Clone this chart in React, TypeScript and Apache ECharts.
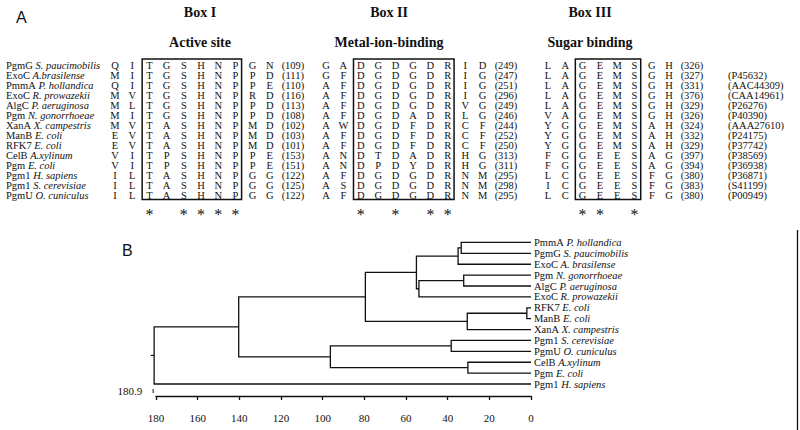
import React, { useEffect, useRef } from "react";
import * as echarts from "echarts";

// ---------------- Panel A data ----------------
const strainNames = ["PgmG", "ExoC", "PmmA", "ExoC", "AlgC", "Pgm", "XanA", "ManB", "RFK7", "CelB", "Pgm", "Pgm1", "Pgm1", "PgmU"];
const speciesNames = ["S. paucimobilis", "A.brasilense", "P. hollandica", "R. prowazekii", "P. aeruginosa", "N. gonorrhoeae", "X. campestris", "E. coli", "E. coli", "A.xylinum", "E. coli", "H. sapiens", "S. cerevisiae", "O. cuniculus"];

const boxISeqs = ["QITGSHNPGN", "MITGSHNPPD", "QITGSHNPPE", "MVTGSHNPRD", "MLTGSHNPPD", "MITGSHNPPD", "MVTASHNPMD", "EVTASHNPMD", "EVTASHNPMD", "VITPSHNPPE", "VITPSHNPPE", "ILTASHNPGG", "ILTASHNPGG", "ILTASHNPGG"];
const boxIEnds = [109, 111, 110, 116, 113, 108, 102, 103, 101, 153, 151, 122, 125, 122];
const boxIISeqs = ["GADGDGDRID", "GFDGDGDRIG", "AFDGDGDRIG", "AFDGDGDRIG", "AFDGDGDRVG", "AFDGDADRLG", "AWDGDFDRCF", "AFDGDFDRCF", "AFDGDFDRCF", "ANDTDADRHG", "ANDPDYDRHG", "AFDGDGDRNM", "ASDGDGDRNM", "AFDGDGDRNM"];
const boxIIEnds = [249, 247, 251, 296, 249, 246, 244, 252, 250, 313, 311, 295, 298, 295];
const boxIIISeqs = ["LAGEMSGH", "LAGEMSGH", "LAGEMSGH", "LAGEMSGH", "LAGEMSGH", "VAGEMSGH", "YGGEMSAH", "YGGEMSAH", "YGGEMSAH", "FGGEESAG", "FGGEESAG", "LCGEESFG", "ICGEESFG", "LCGEESFG"];
const boxIIIEnds = [326, 327, 331, 376, 329, 326, 324, 332, 329, 397, 394, 380, 383, 380];
const accessions = ["", "(P45632)", "(AAC44309)", "(CAA14961)", "(P26276)", "(P40390)", "(AAA27610)", "(P24175)", "(P37742)", "(P38569)", "(P36938)", "(P36871)", "(S41199)", "(P00949)"];

const boxTitles = ["Box I", "Box II", "Box III"];
const boxSubtitles = ["Active site", "Metal-ion-binding", "Sugar binding"];
const boxLengths = [6, 6, 4];
const boxIStars = [0, 2, 3, 4, 5];
const boxIIStars = [0, 2, 4, 5];
const boxIIIStars = [0, 1, 3];

// ---------------- Panel B data ----------------
const leafStrains = ["PmmA", "PgmG", "ExoC", "Pgm", "AlgC", "ExoC", "RFK7", "ManB", "XanA", "Pgm1", "PgmU", "CelB", "Pgm", "Pgm1"];
const leafSpecies = ["P. hollandica", "S. paucimobilis", "A. brasilense", "N. gonorrhoeae", "P. aeruginosa", "R. prowazekii", "E. coli", "E. coli", "X. campestris", "S. cerevisiae", "O. cuniculus", "A.xylinum", "E. coli", "H. sapiens"];
// merges: [childA, childB, height]; leaves are 0..13, merged nodes get 14, 15, ...
const merges: number[][] = [
  [0, 1, 33.5],
  [14, 2, 35],
  [3, 4, 32.3],
  [16, 5, 53.8],
  [15, 17, 55],
  [6, 7, 2],
  [19, 8, 30.6],
  [18, 20, 79.5],
  [9, 10, 38.3],
  [11, 12, 30.3],
  [22, 23, 96.3],
  [21, 24, 140.3],
  [25, 13, 180.9],
];
const axisTicks = { min: 0, max: 180, interval: 20 };

// ---------------- layout ----------------
const SERIF = "Liberation Serif";
const SANS = "Liberation Sans";
const INK = "#111";
const FS = 10.5;
const sections = [
  { seqs: boxISeqs, ends: boxIEnds, stars: boxIStars, start: 115, step: 17.2, num: 293, center: 200 },
  { seqs: boxIISeqs, ends: boxIIEnds, stars: boxIIStars, start: 326, step: 17.4, num: 506, center: 389 },
  { seqs: boxIIISeqs, ends: boxIIIEnds, stars: boxIIIStars, start: 548, step: 17.3, num: 692, center: 590 },
];
const ACC_X = 728;
const NAME_X = 6;
const STAR_ROW = 14.7;

function buildOption() {
  const textItems: number[][] = [];
  const textStr: string[] = [];
  const textAlign: string[] = [];
  const textRich: boolean[] = [];
  sections.forEach((sec) => {
    sec.seqs.forEach((seq, r) => {
      seq.split("").forEach((ch, k) => {
        textItems.push([sec.start + sec.step * k, r]);
        textStr.push(ch);
        textAlign.push("center");
        textRich.push(false);
      });
      textItems.push([sec.num, r]);
      textStr.push(`(${sec.ends[r]})`);
      textAlign.push("center");
      textRich.push(false);
    });
  });
  accessions.forEach((acc, r) => {
    if (!acc) return;
    textItems.push([ACC_X, r]);
    textStr.push(acc);
    textAlign.push("left");
    textRich.push(false);
  });
  strainNames.forEach((n, r) => {
    textItems.push([NAME_X, r]);
    textStr.push(`{n|${n}} {i|${speciesNames[r]}}`);
    textAlign.push("left");
    textRich.push(true);
  });
  const starItems: number[][] = [];
  sections.forEach((sec) => {
    sec.stars.forEach((k) => starItems.push([sec.start + sec.step * (2 + k), STAR_ROW]));
  });
  const boxItems = sections.map((sec, s) => [
    sec.start + sec.step * 2 - sec.step * 0.42,
    -0.6,
    sec.start + sec.step * (1 + boxLengths[s]) + sec.step * 0.36,
    13.45,
  ]);

  const nodeY: number[] = leafStrains.map((_, i) => i);
  const nodeH: number[] = leafStrains.map(() => 0);
  const brackets = merges.map(([a, b, h]) => {
    const item = [nodeH[a], nodeY[a], h, nodeY[b], nodeH[b]];
    nodeY.push((nodeY[a] + nodeY[b]) / 2);
    nodeH.push(h);
    return item;
  });
  const rootIdx = brackets.length - 1;
  const leafItems = leafStrains.map((_, i) => [0, i]);

  const rich = {
    n: { fontFamily: SERIF, fontSize: FS, color: INK, lineHeight: 10 },
    i: { fontFamily: SERIF, fontSize: FS, fontStyle: "italic", color: INK, lineHeight: 10 },
  };
  const baseText = { fill: INK, fontFamily: SERIF, fontSize: FS, lineHeight: 10, verticalAlign: "middle" };

  return {
    animation: false,
    backgroundColor: "#fff",
    textStyle: { fontFamily: SERIF, color: INK },
    grid: [
      { left: 0, top: 0, width: 800, height: 230 },
      { left: 156, right: 269, top: 237, bottom: 34 },
    ],
    xAxis: [
      { gridIndex: 0, type: "value", min: 0, max: 800, show: false },
      {
        gridIndex: 1,
        type: "value",
        position: "bottom",
        inverse: true,
        min: axisTicks.min,
        max: axisTicks.max,
        interval: axisTicks.interval,
        axisLine: { show: true, onZero: false, lineStyle: { color: INK, width: 1.3 } },
        axisTick: { show: true, length: 4, lineStyle: { color: INK, width: 1.3 } },
        axisLabel: { color: INK, fontFamily: SERIF, fontSize: 11, margin: 16 },
        splitLine: { show: false },
      },
    ],
    yAxis: [
      { gridIndex: 0, type: "value", min: -6.5, max: 16.5, inverse: true, show: false },
      { gridIndex: 1, type: "value", min: -0.5, max: 14.1, inverse: true, show: false },
    ],
    graphic: [
      { type: "text", left: 16, top: 9, style: { text: "A", fontFamily: SANS, fontSize: 16, fill: INK } },
      { type: "text", left: 122, top: 242, style: { text: "B", fontFamily: SANS, fontSize: 16, fill: INK } },
      ...sections.flatMap((sec, s) => [
        { type: "text", x: sec.center, y: 12, style: { text: boxTitles[s], fontFamily: SERIF, fontWeight: "bold", fontSize: 14, fill: INK, align: "center", verticalAlign: "middle" } },
        { type: "text", x: sec.center, y: 42, style: { text: boxSubtitles[s], fontFamily: SERIF, fontWeight: "bold", fontSize: 14, fill: INK, align: "center", verticalAlign: "middle" } },
      ]),
      { type: "line", shape: { x1: 797.5, y1: 230, x2: 797.5, y2: 430 }, style: { stroke: INK, lineWidth: 1.3 } },
    ],
    series: [
      {
        type: "custom",
        xAxisIndex: 0,
        yAxisIndex: 0,
        data: textItems,
        silent: true,
        renderItem: (params: any, api: any) => {
          const p = api.coord([api.value(0), api.value(1)]);
          const i = params.dataIndex;
          const style: any = { ...baseText, text: textStr[i], align: textAlign[i] };
          if (textRich[i]) style.rich = rich;
          return { type: "text", x: p[0], y: p[1], style };
        },
      },
      {
        type: "custom",
        xAxisIndex: 0,
        yAxisIndex: 0,
        data: starItems,
        silent: true,
        renderItem: (_params: any, api: any) => {
          const p = api.coord([api.value(0), api.value(1)]);
          return { type: "text", x: p[0], y: p[1] + 2, style: { text: "*", fill: INK, fontFamily: SERIF, fontSize: 16, align: "center", verticalAlign: "middle" } };
        },
      },
      {
        type: "custom",
        xAxisIndex: 0,
        yAxisIndex: 0,
        data: boxItems,
        silent: true,
        renderItem: (_params: any, api: any) => {
          const p0 = api.coord([api.value(0), api.value(1)]);
          const p1 = api.coord([api.value(2), api.value(3)]);
          return {
            type: "rect",
            shape: { x: p0[0], y: p0[1], width: p1[0] - p0[0], height: p1[1] - p0[1] },
            style: { fill: "none", stroke: INK, lineWidth: 1.5 },
          };
        },
      },
      {
        type: "custom",
        xAxisIndex: 1,
        yAxisIndex: 1,
        data: brackets,
        clip: false,
        silent: true,
        encode: { x: [0, 2, 4], y: [1, 3] },
        renderItem: (params: any, api: any) => {
          const a = api.coord([api.value(0), api.value(1)]);
          const b = api.coord([api.value(2), api.value(1)]);
          const c = api.coord([api.value(2), api.value(3)]);
          const d = api.coord([api.value(4), api.value(3)]);
          const line = {
            type: "polyline",
            shape: { points: [a, b, c, d] },
            style: { stroke: INK, lineWidth: 1.3, fill: null },
          };
          if (params.dataIndex !== rootIdx) return line;
          const mid = api.coord([api.value(2), (api.value(1) + api.value(3)) / 2]);
          const below = api.coord([api.value(2), api.value(3)]);
          return {
            type: "group",
            children: [
              line,
              { type: "line", shape: { x1: mid[0] - 3.5, y1: mid[1], x2: mid[0], y2: mid[1] }, style: { stroke: INK, lineWidth: 1.2 } },
              { type: "line", shape: { x1: below[0] - 1, y1: below[1] + 5, x2: below[0] - 1, y2: below[1] + 9 }, style: { stroke: INK, lineWidth: 1 } },
              {
                type: "text",
                x: below[0] - 12,
                y: below[1] + 7,
                style: { text: String(api.value(2)), fill: INK, fontFamily: SERIF, fontSize: 11, align: "right", verticalAlign: "middle" },
              },
            ],
          };
        },
      },
      {
        type: "custom",
        xAxisIndex: 1,
        yAxisIndex: 1,
        data: leafItems,
        clip: false,
        silent: true,
        renderItem: (params: any, api: any) => {
          const p = api.coord([api.value(0), api.value(1)]);
          const i = params.dataIndex;
          return {
            type: "text",
            x: p[0] + 3,
            y: p[1],
            style: { ...baseText, text: `{n|${leafStrains[i]}} {i|${leafSpecies[i]}}`, rich, align: "left" },
          };
        },
      },
    ],
  };
}

export default function App() {
  const ref = useRef<HTMLDivElement>(null);
  useEffect(() => {
    document.body.style.margin = "0";
    const chart = echarts.init(ref.current!, null, { renderer: "svg" });
    chart.setOption(buildOption() as any);
    return () => chart.dispose();
  }, []);
  return <div ref={ref} style={{ width: 800, height: 430, background: "#fff" }} />;
}
